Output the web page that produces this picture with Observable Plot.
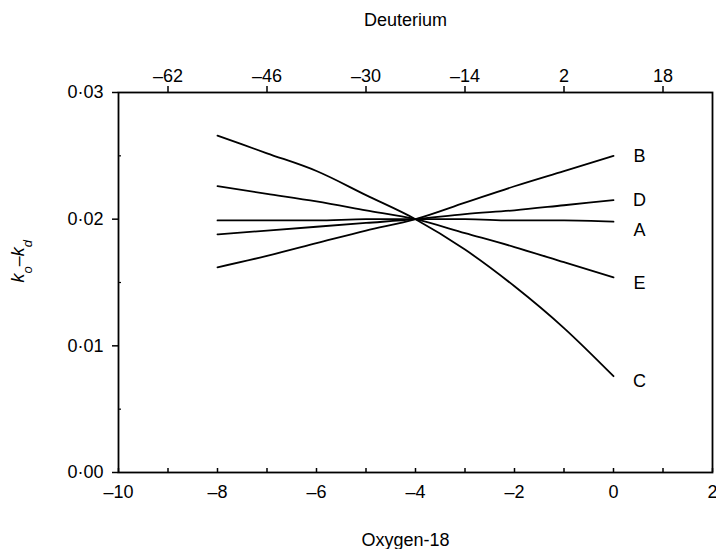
<!DOCTYPE html>
<html><head><meta charset="utf-8">
<script src="https://cdn.jsdelivr.net/npm/d3@7"></script>
<script src="https://cdn.jsdelivr.net/npm/@observablehq/plot@0.6"></script>
<style>
body{margin:0;background:#fff}
svg{font-family:"Liberation Sans",Arial,Helvetica,sans-serif}
</style>
</head><body><div id="chart"></div>
<script>
// ---- data ----
const oxygen18 = [-8, -7, -6, -5, -4, -3, -2, -1, 0];
const seriesA = [0.0199, 0.0199, 0.0199, 0.0200, 0.0200, 0.0200, 0.0199, 0.0199, 0.0198];
const seriesB = [0.0162, 0.0171, 0.0181, 0.0191, 0.0200, 0.0213, 0.0226, 0.0238, 0.0250];
const seriesC = [0.0266, 0.0252, 0.0238, 0.0219, 0.0200, 0.0176, 0.0147, 0.0114, 0.0076];
const seriesD = [0.0188, 0.0191, 0.0194, 0.0197, 0.0200, 0.0204, 0.0207, 0.0211, 0.0215];
const seriesE = [0.0226, 0.0220, 0.0214, 0.0207, 0.0200, 0.0189, 0.0178, 0.0166, 0.0154];
const seriesNames = ["A", "B", "C", "D", "E"];
const xTicks = [-10, -8, -6, -4, -2, 0, 2];
const xMinorTicks = [-10, -9, -8, -7, -6, -5, -4, -3, -2, -1, 0, 1, 2];
const yTicks = [0, 0.01, 0.02, 0.03];
const yMinorTicks = [0.005, 0.015, 0.025];
const deuteriumTicks = [-62, -46, -30, -14, 2, 18];
const xTitle = "Oxygen-18";
const topTitle = "Deuterium";
const yTitle = "ko–kd";

// ---- build table ----
const seriesValues = {A: seriesA, B: seriesB, C: seriesC, D: seriesD, E: seriesE};
const rows = seriesNames.flatMap(s => oxygen18.map((x, i) => ({series: s, x, y: seriesValues[s][i]})));
const ends = seriesNames.map(s => ({series: s, x: oxygen18[oxygen18.length - 1], y: seriesValues[s][oxygen18.length - 1]}));
const labelDy = {A: 9, B: 0, C: 5, D: 0, E: 6};

const dash = d => (d < 0 ? "–" + Math.abs(d) : String(d));
const toO18 = d => (d - 10) / 8;   // meteoric water line δD = 8·δ18O + 10
const toD = o => Math.round(8 * o + 10);

const FS = 18;
const chart = Plot.plot({
  width: 716,
  height: 549,
  marginTop: 92,
  marginBottom: 77,
  marginLeft: 118,
  marginRight: 4,
  style: {fontFamily: '"Liberation Sans", Arial, sans-serif', fontSize: FS + "px", color: "black", background: "white", overflow: "visible"},
  x: {domain: [-10, 2]},
  y: {domain: [0, 0.03]},
  marks: [
    Plot.frame({stroke: "black", strokeWidth: 1.8}),
    // bottom axis
    Plot.axisX({anchor: "bottom", ticks: xTicks, tickSize: 0, tickPadding: 13, tickFormat: dash, fontSize: FS, label: null}),
    Plot.axisX({anchor: "bottom", ticks: xMinorTicks, tickSize: -4, text: null, label: null, strokeWidth: 1.5}),
    // top axis (deuterium)
    Plot.axisX({anchor: "top", ticks: deuteriumTicks.map(toO18), tickSize: 7, tickPadding: 4, tickFormat: o => dash(toD(o)), fontSize: FS, label: null, strokeWidth: 1.5}),
    // left axis
    Plot.axisY({anchor: "left", ticks: yTicks, tickSize: 6, tickPadding: 9, tickFormat: d => d.toFixed(2).replace(".", "·"), fontSize: FS, label: null, strokeWidth: 1.5}),
    Plot.axisY({anchor: "left", ticks: yMinorTicks, tickSize: -3, text: null, label: null, strokeWidth: 1.2}),
    // titles
    Plot.text([topTitle], {frameAnchor: "top", dy: -72, dx: -10, fontSize: FS, lineAnchor: "middle"}),
    Plot.text([xTitle], {frameAnchor: "bottom", dy: 68, dx: -10, fontSize: FS, lineAnchor: "middle"}),
    Plot.text([yTitle], {frameAnchor: "left", dx: -100, rotate: -90, fontSize: FS, lineAnchor: "middle"}),
    // lines
    Plot.line(rows, {x: "x", y: "y", z: "series", stroke: "black", strokeWidth: 1.8, curve: "monotone-x"}),
    Plot.text(ends, {x: "x", y: "y", text: "series", dx: 26, fontSize: FS, lineAnchor: "middle"})
  ]
});

// per-label vertical nudges (style only)
d3.select(chart).selectAll("text").filter(function () {
  return seriesNames.includes(this.textContent);
}).each(function () {
  this.setAttribute("dy", (labelDy[this.textContent] || 0) + "px");
});

// y-axis title with italic subscripts
d3.select(chart).selectAll("text").filter(function () { return this.textContent === yTitle; }).each(function () {
  const t = d3.select(this);
  t.text(null).attr("font-style", "italic");
  const parts = [["k", false], ["o", true], ["–", false], ["k", false], ["d", true]];
  parts.forEach(([str, sub]) => {
    const ts = t.append("tspan").text(str);
    if (sub) ts.attr("baseline-shift", "sub").attr("font-size", "13px");
  });
});

document.getElementById("chart").appendChild(chart);
</script>
</body></html>
